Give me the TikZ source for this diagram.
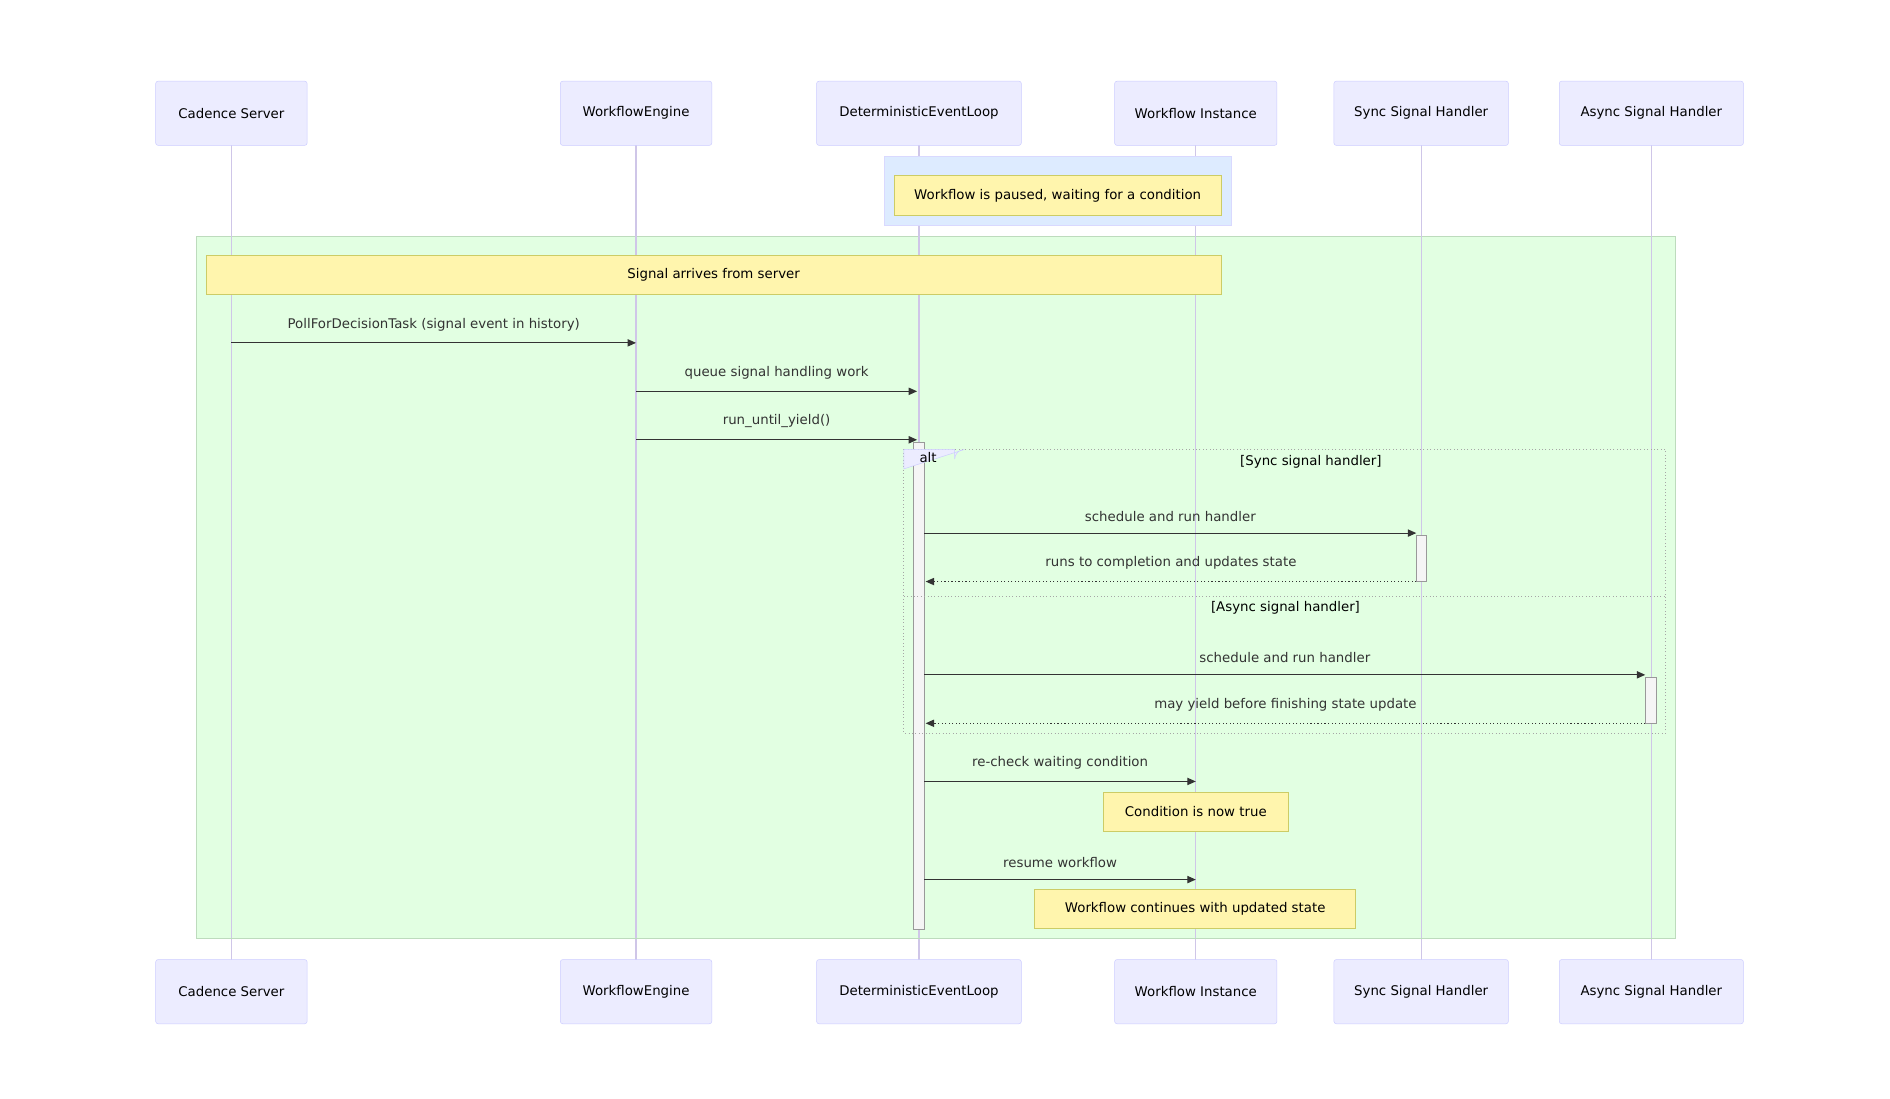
\documentclass[tikz,border=0pt]{standalone}
\usepackage{fontspec}
\setmainfont{DejaVu Sans}
\usetikzlibrary{arrows.meta}
\definecolor{actf}{HTML}{ECECFF}
\definecolor{acts}{HTML}{CCCCFF}
\definecolor{life}{HTML}{CFC6E8}
\definecolor{notef}{HTML}{FFF5AD}
\definecolor{notes}{HTML}{CCCC66}
\definecolor{grn}{HTML}{DDFFDD}
\definecolor{blu}{HTML}{DDEBFF}
\definecolor{msg}{HTML}{333333}
\begin{document}
\begin{tikzpicture}[x=1pt,y=-1pt,
  every node/.style={font=\fontsize{11}{13}\selectfont},
  actor/.style={draw=acts,fill=actf,rounded corners=2pt,inner sep=0,text=black},
  note/.style={draw=notes,fill=notef,inner sep=0,text=black},
  lbl/.style={text=msg},
  m/.style={draw=msg,line width=0.9pt,-{Triangle[length=7pt,width=6pt]}},
  r/.style={m,dotted},
  act/.style={draw=gray!80,fill=gray!8,line width=0.6pt}]
\useasboundingbox (0,0) rectangle (1560,907);
\fill[white] (0,0) rectangle (1560,907);
% actors: name, center x, width
\foreach \n/\x/\w/\t in {cs/191/125/Cadence Server, we/525/125/WorkflowEngine, del/758.5/169/DeterministicEventLoop, wi/987/134/Workflow Instance, ss/1173/144/Sync Signal Handler, as/1363/152/Async Signal Handler}{
  \draw[life,line width=1pt] (\x,120) -- (\x,792);
  \node[actor,minimum width=\w,minimum height=53] (\n) at (\x,93.5) {\t};
  \node[actor,minimum width=\w,minimum height=53] (\n b) at (\x,818.5) {\t};
}
\fill[blu,draw=blue!15] (730,129) rectangle (1016,186);
\node[note,minimum width=270,minimum height=33] (n1) at (873,161.5) {Workflow is paused, waiting for a condition};
\fill[grn,draw=green!30!gray!40,fill opacity=0.85] (162,195) rectangle (1383,774);
\foreach \x in {191,525,758.5,987,1173,1363} \draw[life,line width=1pt] (\x,195) -- (\x,774);
\node[note,minimum width=838,minimum height=32] (n2) at (589,227) {Signal arrives from server};
\coordinate (c1) at (191,283); \coordinate (c2) at (525,283);
\draw[m] (c1) -- node[lbl,above=6pt]{PollForDecisionTask (signal event in history)} (c2);
\coordinate (c3) at (525,323); \coordinate (c4) at (757,323);
\draw[m] (c3) -- node[lbl,above=6pt]{queue signal handling work} (c4);
\coordinate (c5) at (525,363); \coordinate (c6) at (757,363);
\draw[m] (c5) -- node[lbl,above=6pt]{run\_until\_yield()} (c6);
\draw[act] (754,365) rectangle (763,767);
% alt frame
\draw[gray!70,dotted,line width=0.8pt] (746,371) rectangle (1375,605);
\draw[gray!70,dotted,line width=0.8pt] (746,492) -- (1375,492);
\filldraw[draw=acts,fill=actf] (746,371) -- (788,371) -- (788,379) arc (0:90:-8) -- (746,387) -- cycle;
\node[text=black] (alt) at (766,378) {alt};
\node[text=black] (g1) at (1082,381) {[Sync signal handler]};
\node[text=black] (g2) at (1061,502) {[Async signal handler]};
\coordinate (d1) at (763,440); \coordinate (d2) at (1169,440);
\draw[m] (d1) -- node[lbl,above=6pt]{schedule and run handler} (d2);
\draw[act] (1169,442) rectangle (1177,480);
\coordinate (d3) at (1169,480); \coordinate (d4) at (764,480);
\draw[r] (d3) -- node[lbl,above=6pt]{runs to completion and updates state} (d4);
\coordinate (e1) at (763,557); \coordinate (e2) at (1358,557);
\draw[m] (e1) -- node[lbl,above=6pt]{schedule and run handler} (e2);
\draw[act] (1358,559) rectangle (1367,597);
\coordinate (e3) at (1358,597); \coordinate (e4) at (764,597);
\draw[r] (e3) -- node[lbl,above=6pt]{may yield before finishing state update} (e4);
\coordinate (f1) at (763,645); \coordinate (f2) at (987,645);
\draw[m] (f1) -- node[lbl,above=6pt]{re-check waiting condition} (f2);
\node[note,minimum width=152,minimum height=32] (n3) at (987,670) {Condition is now true};
\coordinate (g3) at (763,726); \coordinate (g4) at (987,726);
\draw[m] (g3) -- node[lbl,above=6pt]{resume workflow} (g4);
\node[note,minimum width=265,minimum height=32] (n4) at (986.5,750) {Workflow continues with updated state};
\end{tikzpicture}
\end{document}
